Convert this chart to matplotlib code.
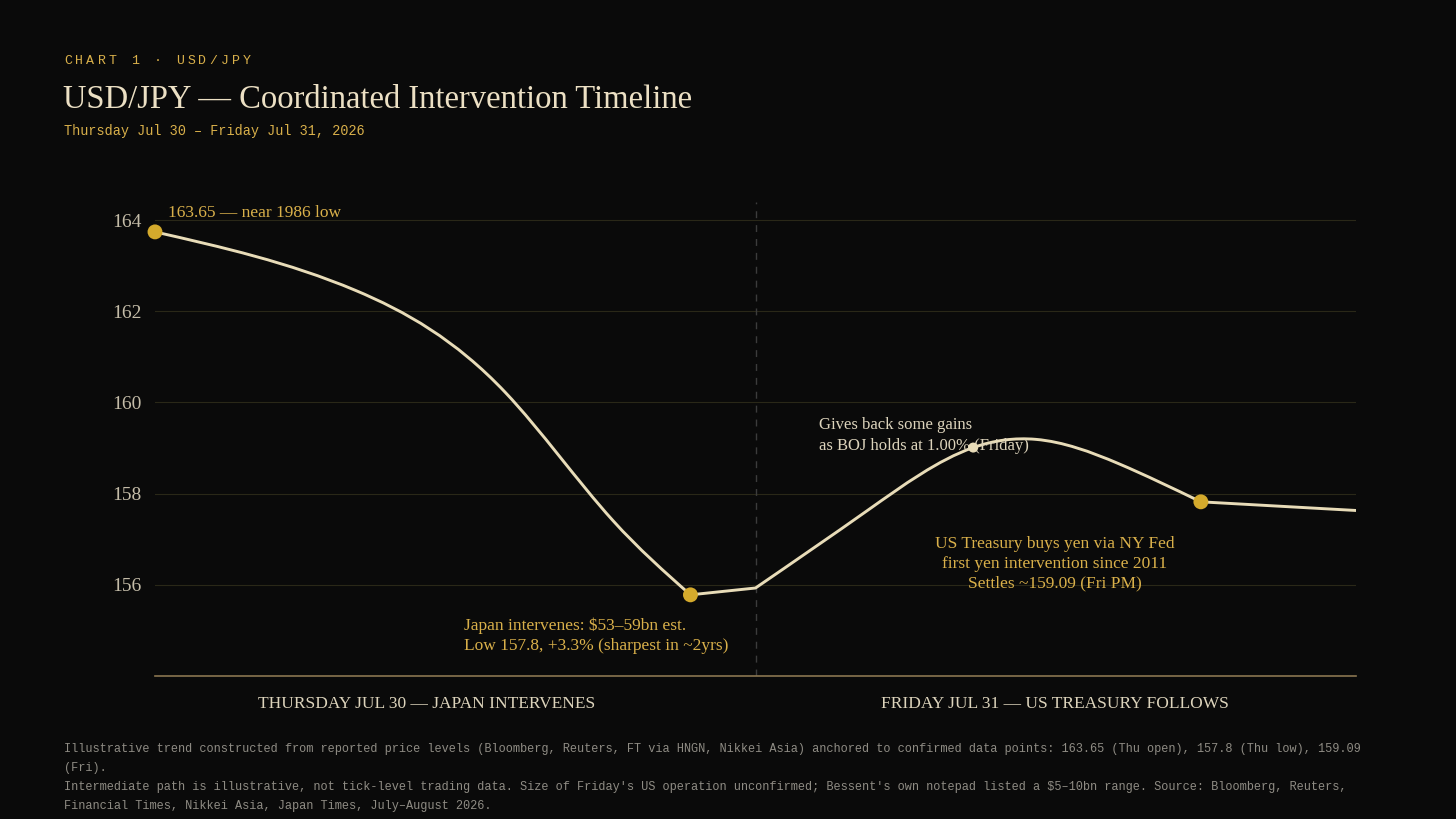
import numpy as np
import matplotlib
matplotlib.use("Agg")
import matplotlib.pyplot as plt
from matplotlib.path import Path
from matplotlib.patches import PathPatch

# --- data (hours since Thursday open, USD/JPY price) ---
hours = [0, 8.0, 14.0, 18.3, 21.4, 24.0, 28.5, 32.7, 35.2, 38.5, 41.8, 48.0]
price = [163.74, 162.46, 160.22, 157.41, 155.78, 155.93, 157.64, 159.01, 159.19, 158.66, 157.82, 157.63]
# knots where the path breaks into a corner
corners = [21.4, 24.0, 41.8]

key_hours = [0, 21.4, 41.8]
key_price = [163.74, 155.78, 157.82]
boj_hour = [32.7]
boj_price = [159.01]

yticks = [156, 158, 160, 162, 164]
day_split = 24.0

BG = "#0a0a0a"
CREAM = "#e8dcb8"
GOLD = "#d4aa2c"
GOLD_TXT = "#d9b04a"
TICK = "#c4bca8"
NOTE = "#8f8c84"
SERIF = ["Liberation Serif", "DejaVu Serif"]
MONO = ["Liberation Mono", "DejaVu Sans Mono"]

W, H = 1456, 819


def smooth_run(xs, ys):
    '''natural cubic spline through the knots, drawn as Bezier pieces'''
    xs = np.asarray(xs, float)
    ys = np.asarray(ys, float)
    n = len(xs)
    h = np.diff(xs)
    sec = np.diff(ys) / h
    A = np.zeros((n, n))
    b = np.zeros(n)
    A[0, 0], A[0, 1], b[0] = 2, 1, 3 * sec[0]
    A[-1, -2], A[-1, -1], b[-1] = 1, 2, 3 * sec[-1]
    for i in range(1, n - 1):
        A[i, i - 1] = h[i]
        A[i, i] = 2 * (h[i - 1] + h[i])
        A[i, i + 1] = h[i - 1]
        b[i] = 3 * (h[i] * sec[i - 1] + h[i - 1] * sec[i])
    m = np.linalg.solve(A, b)
    verts = [(xs[0], ys[0])]
    codes = [Path.MOVETO]
    for i in range(n - 1):
        dx = h[i]
        verts += [(xs[i] + dx / 3, ys[i] + m[i] * dx / 3),
                  (xs[i + 1] - dx / 3, ys[i + 1] - m[i + 1] * dx / 3),
                  (xs[i + 1], ys[i + 1])]
        codes += [Path.CURVE4] * 3
    return verts, codes


def build_path(xs, ys, corners):
    idx = [0] + [xs.index(c) for c in corners] + [len(xs) - 1]
    verts, codes = [], []
    for a, b in zip(idx[:-1], idx[1:]):
        if b - a == 1:
            v, c = [(xs[a], ys[a]), (xs[b], ys[b])], [Path.MOVETO, Path.LINETO]
        else:
            v, c = smooth_run(xs[a:b + 1], ys[a:b + 1])
        if verts:
            v, c = v[1:], c[1:]
        verts += v
        codes += c
    return Path(verts, codes)


def fx(px):
    return px / W


def fy(py):
    return 1 - py / H


fig = plt.figure(figsize=(W / 100, H / 100), dpi=100, facecolor=BG)
ax = fig.add_axes([fx(155), fy(676), fx(1356) - fx(155), (676 - 201.8) / H])
ax.set_facecolor(BG)
ax.set_xlim(0, 48)
ax.set_ylim(154, 164.4)

for s in ["top", "right", "left"]:
    ax.spines[s].set_visible(False)
ax.spines["bottom"].set_color("#8a7650")
ax.spines["bottom"].set_linewidth(1.2)

ax.set_xticks([])
ax.set_yticks(yticks)
ax.set_yticklabels([str(t) for t in yticks], fontfamily=SERIF, fontsize=14, color=TICK)
ax.tick_params(axis="y", length=0, pad=9.5)
for t in yticks:
    ax.axhline(t, color="#2a2818", lw=0.8, zorder=1)

ax.axvline(day_split, color="#3c3c3c", lw=1, ls=(0, (5, 5)), zorder=1)

path = build_path(hours, price, corners)
ax.add_patch(PathPatch(path, facecolor="none", edgecolor=CREAM, lw=2.1, zorder=3,
                       capstyle="round", joinstyle="round"))

ax.scatter(key_hours, key_price, s=115, color=GOLD, edgecolor="none", zorder=4, clip_on=False)
ax.scatter(boj_hour, boj_price, s=52, color=CREAM, edgecolor="none", zorder=4)

# annotations
ax.text(0.52, 164.16, "163.65 — near 1986 low", fontfamily=SERIF, fontsize=12.5,
        color=GOLD_TXT, va="center", ha="left")
ax.text(12.35, 154.88, "Japan intervenes: $53–59bn est.\nLow 157.8, +3.3% (sharpest in ~2yrs)",
        fontfamily=SERIF, fontsize=12.5, color=GOLD_TXT, va="center", ha="left", linespacing=1.32)
ax.text(26.54, 159.27, "Gives back some gains\nas BOJ holds at 1.00% (Friday)",
        fontfamily=SERIF, fontsize=12, color="#ddd4bc", va="center", ha="left", linespacing=1.37)
ax.text(35.97, 156.46, "US Treasury buys yen via NY Fed\nfirst yen intervention since 2011\nSettles ~159.09 (Fri PM)",
        fontfamily=SERIF, fontsize=12.5, color=GOLD_TXT, va="center", ha="center",
        multialignment="center", linespacing=1.32)

# day labels under the axis
ax.text(10.87, 153.38, "THURSDAY JUL 30 — JAPAN INTERVENES", fontfamily=SERIF, fontsize=12.5,
        color="#ddd4bc", ha="center", va="center")
ax.text(35.97, 153.38, "FRIDAY JUL 31 — US TREASURY FOLLOWS", fontfamily=SERIF, fontsize=12.5,
        color="#ddd4bc", ha="center", va="center")

# header
kicker = "CHART 1 · USD/JPY"
for i, ch in enumerate(kicker):
    fig.text(fx(64 + i * 11.2), fy(61), ch, fontfamily=MONO, fontsize=9.5,
             color=GOLD_TXT, va="center", ha="left")
fig.text(fx(63), fy(108), "USD/JPY — Coordinated Intervention Timeline", fontfamily=SERIF,
         fontsize=23.5, color="#ece0c4", va="baseline", ha="left")
fig.text(fx(64), fy(131), "Thursday Jul 30 – Friday Jul 31, 2026", fontfamily=MONO,
         fontsize=9.75, color=GOLD_TXT, va="center", ha="left")

notes = [
    "Illustrative trend constructed from reported price levels (Bloomberg, Reuters, FT via HNGN, Nikkei Asia) anchored to confirmed data points: 163.65 (Thu open), 157.8 (Thu low), 159.09",
    "(Fri).",
    "Intermediate path is illustrative, not tick-level trading data. Size of Friday's US operation unconfirmed; Bessent's own notepad listed a $5–10bn range. Source: Bloomberg, Reuters,",
    "Financial Times, Nikkei Asia, Japan Times, July–August 2026.",
]
for i, line in enumerate(notes):
    fig.text(fx(64), fy(749 + i * 19), line, fontfamily=MONO, fontsize=8.55,
             color=NOTE, va="center", ha="left")

fig.savefig("out.png", dpi=100, facecolor=BG)
